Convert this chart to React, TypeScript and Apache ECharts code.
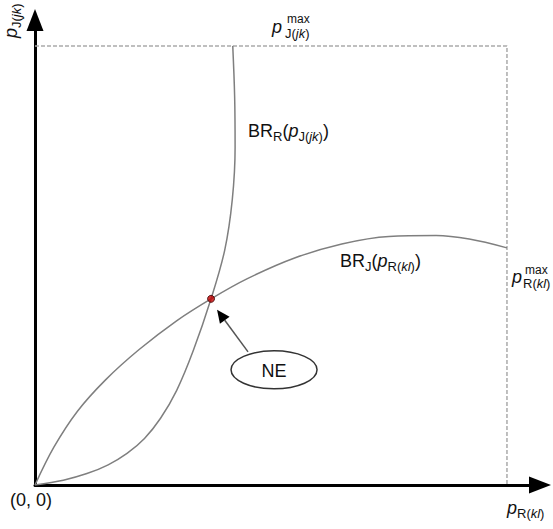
import React, { useEffect, useRef } from "react";
import * as echarts from "echarts";

// BR_R curve (x = p_R, y = p_J), in units of the max (100)
const brRX = [0, 6, 11, 15.5, 19.5, 23.2, 26.6, 30, 33.5, 37.3, 40.2, 41.8, 42.4, 42.3, 41.9];
const brRY = [0, 1.1, 2.6, 4.6, 7.2, 10.6, 15.2, 21.5, 30.5, 42.4, 53.5, 65, 77, 88.5, 100];
// BR_J curve
const brJX = [0, 4, 9, 15, 22, 30, 37.3, 45, 55, 65, 75, 85, 92, 100];
const brJY = [0, 8.6, 16.8, 24.0, 30.8, 37.4, 42.4, 47.0, 51.7, 54.9, 56.6, 56.8, 56.0, 54.0];
// Nash equilibrium
const nePoint = [37.3, 42.4];
// max values
const pRMax = 100;
const pJMax = 100;
const axisMaxX = 107.0;
const axisMaxY = 105.9;

const FONT = "'Liberation Sans', Arial, sans-serif";

const rich = {
  b: { fontSize: 18, lineHeight: 24, fontFamily: FONT, fill: "#111" },
  i: { fontSize: 18, lineHeight: 24, fontFamily: FONT, fontStyle: "italic", fill: "#111" },
  s: { fontSize: 13, lineHeight: 13, fontFamily: FONT, verticalAlign: "bottom", fill: "#111" },
  si: { fontSize: 13, lineHeight: 13, fontFamily: FONT, fontStyle: "italic", verticalAlign: "bottom", fill: "#111" },
};
const richSmall = {
  s: { fontSize: 13, lineHeight: 13, fontFamily: FONT, fill: "#111" },
  si: { fontSize: 13, lineHeight: 13, fontFamily: FONT, fontStyle: "italic", fill: "#111" },
};

export default function App() {
  const ref = useRef<HTMLDivElement>(null);
  useEffect(() => {
    if (!ref.current) return;
    const chart = echarts.init(ref.current, undefined, { renderer: "svg" });
    const axisCommon = {
      type: "value",
      min: 0,
      axisLine: {
        show: true,
        onZero: false,
        symbol: ["none", "triangle"],
        symbolSize: [17, 22],
        lineStyle: { color: "#000", width: 3 },
      },
      axisTick: { show: false },
      axisLabel: { show: false },
      splitLine: { show: false },
    };
    chart.setOption({
      animation: false,
      backgroundColor: "#fff",
      grid: { left: 35, right: 13, top: 20, bottom: 44 },
      xAxis: { ...axisCommon, max: axisMaxX },
      yAxis: { ...axisCommon, max: axisMaxY },
      series: [
        {
          type: "line",
          name: "max",
          data: [[0, pJMax], [pRMax, pJMax], [pRMax, 0]],
          symbol: "none",
          lineStyle: { color: "#aaaaaa", width: 1.5, type: [4, 2] },
          z: 1,
        },
        {
          type: "line",
          name: "BR_R",
          data: brRX.map((x, i) => [x, brRY[i]]),
          symbol: "none",
          smooth: 0.35,
          lineStyle: { color: "#7f7f7f", width: 1.5 },
        },
        {
          type: "line",
          name: "BR_J",
          data: brJX.map((x, i) => [x, brJY[i]]),
          symbol: "none",
          smooth: 0.35,
          lineStyle: { color: "#7f7f7f", width: 1.5 },
        },
        {
          type: "scatter",
          name: "NE",
          data: [nePoint],
          symbolSize: 7,
          itemStyle: { color: "#c00000", borderColor: "#3a0000", borderWidth: 1 },
          z: 5,
        },
      ],
    });

    const ne = chart.convertToPixel({ xAxisIndex: 0, yAxisIndex: 0 }, nePoint) as number[];
    const tip = [ne[0] + 6, ne[1] + 11];
    const tail = [ne[0] + 37, ne[1] + 53];
    const dx = tip[0] - tail[0];
    const dy = tip[1] - tail[1];
    const len = Math.sqrt(dx * dx + dy * dy);
    const ux = dx / len;
    const uy = dy / len;
    const hl = 13;
    const hw = 6;
    const bx = tip[0] - ux * hl;
    const by = tip[1] - uy * hl;
    const ell = [ne[0] + 63, ne[1] + 71];

    chart.setOption({
      graphic: [
        {
          type: "line",
          shape: { x1: tail[0], y1: tail[1], x2: bx, y2: by },
          style: { stroke: "#555", lineWidth: 1.5 },
          z: 10,
        },
        {
          type: "polygon",
          shape: {
            points: [
              [tip[0], tip[1]],
              [bx - uy * hw, by + ux * hw],
              [bx + uy * hw, by - ux * hw],
            ],
          },
          style: { fill: "#000" },
          z: 10,
        },
        {
          type: "ellipse",
          shape: { cx: ell[0], cy: ell[1], rx: 43, ry: 19 },
          style: { fill: "#fff", stroke: "#333", lineWidth: 1.5 },
          z: 10,
        },
        {
          type: "text",
          x: ell[0],
          y: ell[1] + 1,
          style: { text: "NE", font: `18px ${FONT}`, fill: "#111", align: "center", verticalAlign: "middle" },
          z: 11,
        },
        {
          type: "text",
          x: 248,
          y: 131,
          style: {
            text: "{b|BR}{s|R}{b|(}{i|p}{s|J(}{si|jk}{s|)}{b|)}",
            rich,
            align: "left",
            verticalAlign: "middle",
          },
        },
        {
          type: "text",
          x: 340,
          y: 261,
          style: {
            text: "{b|BR}{s|J}{b|(}{i|p}{s|R(}{si|kl}{s|)}{b|)}",
            rich,
            align: "left",
            verticalAlign: "middle",
          },
        },
        {
          type: "text",
          x: 507,
          y: 508,
          style: { text: "{i|p}{s|R(}{si|kl}{s|)}", rich, align: "left", verticalAlign: "middle" },
        },
        {
          type: "text",
          x: 11,
          y: 38,
          rotation: Math.PI / 2,
          style: { text: "{i|p}{s|J(}{si|jk}{s|)}", rich, align: "left", verticalAlign: "middle" },
        },
        {
          type: "text",
          x: 10,
          y: 500,
          style: { text: "(0, 0)", font: `18px ${FONT}`, fill: "#111", align: "left", verticalAlign: "middle" },
        },
        // p^max_J(jk)
        {
          type: "text",
          x: 272,
          y: 27,
          style: { text: "p", font: `italic 18px ${FONT}`, fill: "#111", align: "left", verticalAlign: "middle" },
        },
        {
          type: "text",
          x: 287,
          y: 19,
          style: { text: "max", font: `12px ${FONT}`, fill: "#111", align: "left", verticalAlign: "middle" },
        },
        {
          type: "text",
          x: 285,
          y: 33,
          style: { text: "{s|J(}{si|jk}{s|)}", rich: richSmall, align: "left", verticalAlign: "middle" },
        },
        // p^max_R(kl)
        {
          type: "text",
          x: 512,
          y: 277,
          style: { text: "p", font: `italic 18px ${FONT}`, fill: "#111", align: "left", verticalAlign: "middle" },
        },
        {
          type: "text",
          x: 525,
          y: 270,
          style: { text: "max", font: `12px ${FONT}`, fill: "#111", align: "left", verticalAlign: "middle" },
        },
        {
          type: "text",
          x: 523,
          y: 283,
          style: { text: "{s|R(}{si|kl}{s|)}", rich: richSmall, align: "left", verticalAlign: "middle" },
        },
      ],
    });
    return () => chart.dispose();
  }, []);
  return <div ref={ref} style={{ width: 553, height: 529, position: "absolute", left: 0, top: 0 }} />;
}
